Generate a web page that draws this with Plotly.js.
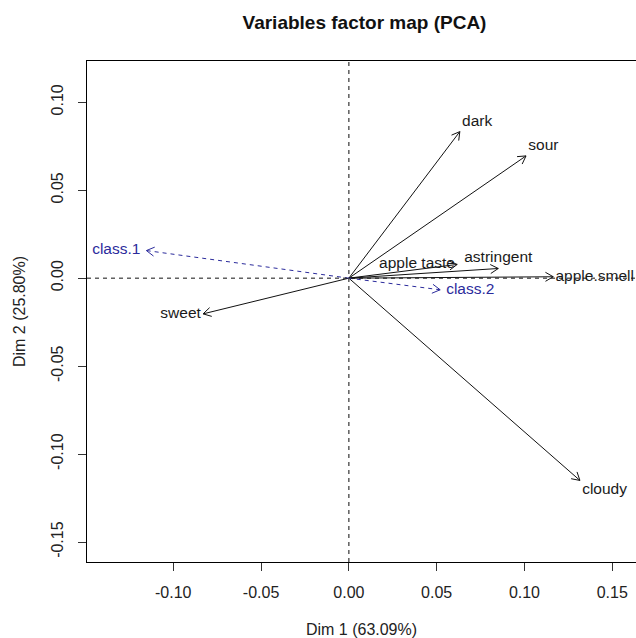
<!DOCTYPE html>
<html>
<head>
<meta charset="utf-8">
<script src="https://cdn.plot.ly/plotly-3.0.1.min.js"></script>
<style>html,body{margin:0;padding:0;background:#fff;}#chart{width:636px;height:638px;}</style>
</head>
<body>
<div id="chart"></div>
<script>
// ---- data ----
var activeNames = ["dark", "sour", "apple taste", "astringent", "apple.smell", "sweet", "cloudy"];
var activeDim1  = [0.0632, 0.1009, 0.0617, 0.0851, 0.1164, -0.0830, 0.1316];
var activeDim2  = [0.0833, 0.0695, 0.0078, 0.0055, 0.0008, -0.0203, -0.1150];
var supNames = ["class.1", "class.2"];
var supDim1  = [-0.1153, 0.0520];
var supDim2  = [0.0157, -0.0066];
var xTickVals = [-0.10, -0.05, 0.00, 0.05, 0.10, 0.15];
var xTickText = ["-0.10", "-0.05", "0.00", "0.05", "0.10", "0.15"];
var yTickVals = [-0.15, -0.10, -0.05, 0.00, 0.05, 0.10];
var yTickText = ["-0.15", "-0.10", "-0.05", "0.00", "0.05", "0.10"];
var titleText = "Variables factor map (PCA)";
var xTitle = "Dim 1 (63.09%)";
var yTitle = "Dim 2 (25.80%)";

// ---- label placement (style, not data) ----
var activePos = ["top right", "top right", "middle left", "top center", "middle right", "middle left", "bottom right"];
var supPos = ["middle left", "middle right"];

// ---- layout geometry ----
var W = 636, H = 638;
var M = {l: 87, r: 0, t: 61, b: 76};
var xRange = [-0.14912, 0.16353];
var yRange = [-0.16136, 0.12346];
var pw = W - M.l - M.r, ph = H - M.t - M.b;
var sx = pw / (xRange[1] - xRange[0]);
var sy = ph / (yRange[1] - yRange[0]);

function arrowTraces(xs, ys) {
  var lx = [], ly = [], hx = [], hy = [];
  var headLen = 9, ang = Math.PI / 6;
  for (var i = 0; i < xs.length; i++) {
    lx.push(0, xs[i], null); ly.push(0, ys[i], null);
    var px = xs[i] * sx, py = ys[i] * sy;
    var L = Math.sqrt(px * px + py * py);
    var ux = px / L, uy = py / L;
    var a1x = ux * Math.cos(ang) - uy * Math.sin(ang), a1y = ux * Math.sin(ang) + uy * Math.cos(ang);
    var a2x = ux * Math.cos(-ang) - uy * Math.sin(-ang), a2y = ux * Math.sin(-ang) + uy * Math.cos(-ang);
    hx.push(xs[i] - headLen * a1x / sx, xs[i], xs[i] - headLen * a2x / sx, null);
    hy.push(ys[i] - headLen * a1y / sy, ys[i], ys[i] - headLen * a2y / sy, null);
  }
  return {lx: lx, ly: ly, hx: hx, hy: hy};
}

var A = arrowTraces(activeDim1, activeDim2);
var S = arrowTraces(supDim1, supDim2);
var FONT = "Liberation Sans, Arial, sans-serif";
var BLUE = "#2b2b9c";

var traces = [
  {x: A.lx, y: A.ly, mode: "lines", line: {color: "#111", width: 1}, hoverinfo: "skip", showlegend: false},
  {x: A.hx, y: A.hy, mode: "lines", line: {color: "#111", width: 1}, hoverinfo: "skip", showlegend: false},
  {x: S.lx, y: S.ly, mode: "lines", line: {color: BLUE, width: 1, dash: "4px,4px"}, hoverinfo: "skip", showlegend: false},
  {x: S.hx, y: S.hy, mode: "lines", line: {color: BLUE, width: 1}, hoverinfo: "skip", showlegend: false},
  {x: activeDim1, y: activeDim2, text: activeNames, mode: "markers+text", textposition: activePos,
   marker: {size: 2, opacity: 0}, textfont: {family: FONT, size: 15.5, color: "#1a1a1a"}, showlegend: false, hoverinfo: "text"},
  {x: supDim1, y: supDim2, text: supNames, mode: "markers+text", textposition: supPos,
   marker: {size: 8, opacity: 0}, textfont: {family: FONT, size: 15.5, color: BLUE}, showlegend: false, hoverinfo: "text"}
];

var layout = {
  width: W, height: H,
  margin: M,
  paper_bgcolor: "#fff", plot_bgcolor: "#fff",
  font: {family: FONT, color: "#222"},
  title: {text: "<b>" + titleText + "</b>", font: {family: FONT, size: 19, color: "#111"},
          xref: "container", yref: "container", x: 364.5 / W, y: 1 - 22 / H, xanchor: "center", yanchor: "middle"},
  xaxis: {
    range: xRange, showgrid: false, zeroline: false,
    showline: true, linecolor: "#000", linewidth: 1, mirror: true,
    tickvals: xTickVals, ticktext: xTickText, ticks: "outside", ticklen: 8, tickcolor: "#333",
    tickfont: {family: FONT, size: 16, color: "#222"}, ticklabelstandoff: 8,
    title: {text: xTitle, font: {family: FONT, size: 16, color: "#222"}, standoff: 23}
  },
  yaxis: {
    range: yRange, showgrid: false, zeroline: false,
    showline: true, linecolor: "#000", linewidth: 1, mirror: false,
    tickvals: yTickVals, ticktext: yTickText, ticks: "outside", ticklen: 8, tickcolor: "#333",
    tickangle: -90, tickfont: {family: FONT, size: 16, color: "#222"}, ticklabelstandoff: 9,
    title: {text: yTitle, font: {family: FONT, size: 16, color: "#222"}, standoff: 18}
  },
  shapes: [
    {type: "line", xref: "x", yref: "paper", x0: 0, x1: 0, y0: 0, y1: 1, line: {color: "#444", width: 1.3, dash: "4px,4px"}},
    {type: "line", xref: "paper", yref: "y", x0: 0, x1: 1, y0: 0, y1: 0, line: {color: "#111", width: 1, dash: "4px,4px"}}
  ]
};

Plotly.newPlot("chart", traces, layout, {staticPlot: true, displayModeBar: false});
</script>
</body>
</html>
